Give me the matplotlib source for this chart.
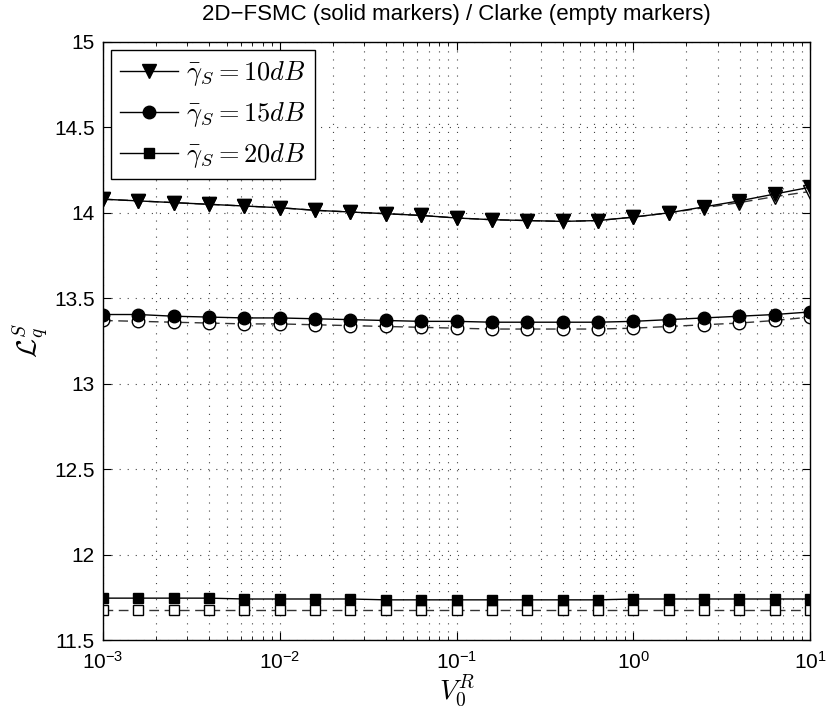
import numpy as np
import matplotlib
matplotlib.use("Agg")
import matplotlib.pyplot as plt

plt.rcParams['font.family'] = ['Liberation Sans', 'DejaVu Sans']
plt.rcParams['mathtext.fontset'] = 'cm'
plt.rcParams['lines.scale_dashes'] = False

x_exp = [-3.0, -2.8, -2.6, -2.4, -2.2, -2.0, -1.8, -1.6, -1.4, -1.2, -1.0,
         -0.8, -0.6, -0.4, -0.2, 0.0, 0.2, 0.4, 0.6, 0.8, 1.0]
x_vals = [10 ** e for e in x_exp]

fsmc_10 = [14.08, 14.07, 14.06, 14.05, 14.04, 14.03, 14.015, 14.005, 13.995, 13.985, 13.97,
           13.96, 13.955, 13.95, 13.955, 13.975, 14.0, 14.035, 14.07, 14.11, 14.15]
clarke_10 = [14.08, 14.07, 14.06, 14.05, 14.04, 14.03, 14.015, 14.005, 13.995, 13.985, 13.97,
             13.96, 13.955, 13.95, 13.955, 13.975, 14.0, 14.03, 14.06, 14.095, 14.125]
fsmc_15 = [13.405, 13.405, 13.395, 13.39, 13.385, 13.385, 13.38, 13.375, 13.37, 13.365, 13.365,
           13.36, 13.36, 13.36, 13.36, 13.365, 13.375, 13.385, 13.395, 13.405, 13.42]
clarke_15 = [13.37, 13.365, 13.36, 13.355, 13.35, 13.35, 13.345, 13.34, 13.335, 13.33, 13.325,
             13.32, 13.32, 13.32, 13.32, 13.325, 13.335, 13.345, 13.355, 13.37, 13.39]
fsmc_20 = [11.745, 11.745, 11.745, 11.745, 11.74, 11.74, 11.74, 11.74, 11.735, 11.735, 11.735,
           11.735, 11.735, 11.735, 11.735, 11.74, 11.74, 11.74, 11.74, 11.74, 11.74]
clarke_20 = [11.675, 11.675, 11.675, 11.675, 11.675, 11.675, 11.675, 11.675, 11.675, 11.675, 11.675,
             11.675, 11.675, 11.675, 11.675, 11.675, 11.675, 11.675, 11.675, 11.675, 11.675]

labels = [r'$\bar{\gamma}_S = 10dB$', r'$\bar{\gamma}_S = 15dB$', r'$\bar{\gamma}_S = 20dB$']
markers = ['v', 'o', 's']
msizes = [10, 9, 7]

fig = plt.figure(figsize=(8.38, 7.15), dpi=100)
ax = fig.add_axes([103 / 838, 1 - 640 / 715, 707 / 838, 598 / 715])

for fs, cl, lab, mk, ms in zip([fsmc_10, fsmc_15, fsmc_20], [clarke_10, clarke_15, clarke_20],
                               labels, markers, msizes):
    ax.plot(x_vals, cl, linestyle=(0, (7, 4)), color='#333333', lw=1.0, marker=mk,
            markersize=ms, markerfacecolor='white', markeredgecolor='black', markeredgewidth=1.0)
    ax.plot(x_vals, fs, linestyle='-', color='black', lw=1.0, marker=mk,
            markersize=ms, markerfacecolor='black', markeredgecolor='black', label=lab)

ax.set_xscale('log')
ax.set_xlim(1e-3, 1e1)
ax.set_ylim(11.5, 15)
ax.set_yticks([11.5, 12, 12.5, 13, 13.5, 14, 14.5, 15])
ax.set_yticklabels(['11.5', '12', '12.5', '13', '13.5', '14', '14.5', '15'])
grid_ls = (0, (0.8, 5.0))
ax.grid(True, which='major', linestyle=grid_ls, color='#444444', lw=0.8)
ax.grid(True, which='minor', axis='x', linestyle=grid_ls, color='#444444', lw=0.8)
ax.tick_params(which='both', direction='in', top=True, right=True, labelsize=15)
ax.tick_params(axis='x', which='major', pad=8)
ax.tick_params(axis='y', which='major', pad=6)
ax.tick_params(which='major', length=6)
ax.tick_params(which='minor', length=3)
for s in ax.spines.values():
    s.set_linewidth(1.0)

ax.set_xlabel(r'$V_0^R$', fontsize=20, labelpad=0)
ax.set_ylabel(r'$\mathcal{L}_q^S$', fontsize=20, labelpad=2)
ax.set_title('2D\u2212FSMC (solid markers) / Clarke (empty markers)', fontsize=16, pad=16)

leg = ax.legend(loc='upper left', fontsize=19, frameon=True, fancybox=False,
                edgecolor='black', framealpha=1, borderaxespad=0.3, handlelength=2.2,
                handletextpad=0.3, labelspacing=0.45, borderpad=0.35)
leg.get_frame().set_linewidth(1.0)

fig.savefig('out.png', dpi=100)
